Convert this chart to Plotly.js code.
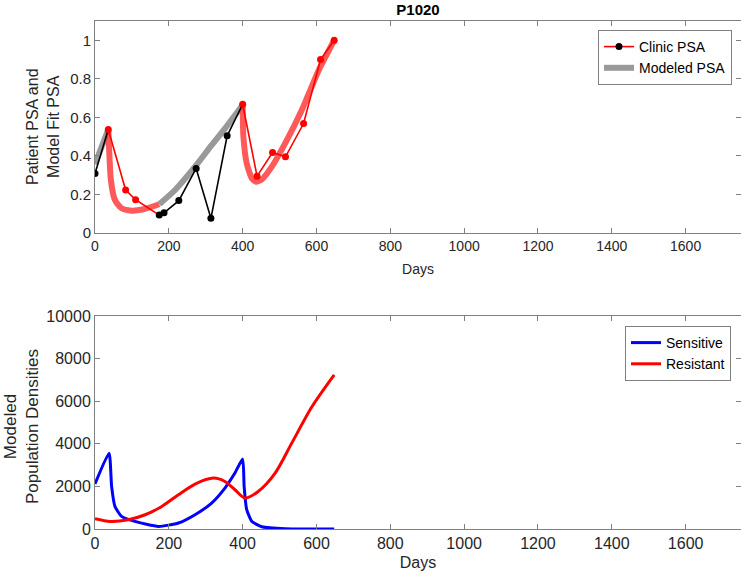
<!DOCTYPE html>
<html>
<head>
<meta charset="utf-8">
<script src="https://cdn.plot.ly/plotly-3.0.1.min.js"></script>
<style>html,body{margin:0;padding:0;background:#fff}#chart{width:741px;height:578px}</style>
</head>
<body>
<div id="chart"></div>
<script>
// ---- Clinic PSA (normalized) ----
const clinicDays = [0, 36, 83, 110, 174, 187, 227, 274, 314, 358, 400, 439, 481, 516, 565, 611, 648];
const clinicPSA  = [0.309, 0.537, 0.223, 0.173, 0.093, 0.105, 0.168, 0.335, 0.076, 0.504, 0.668, 0.295, 0.418, 0.395, 0.568, 0.900, 1.000];
// 1 = on treatment (red), 0 = off treatment (black)
const clinicOnTx = [0, 1, 1, 1, 0, 0, 0, 0, 0, 0, 1, 1, 1, 1, 1, 1, 1];

// ---- Modeled PSA, per phase ----
const modelOff1Days = [0, 36];
const modelOff1PSA  = [0.357, 0.537];
const modelOn1Days  = [36, 38, 43, 54, 72, 99, 131, 174];
const modelOn1PSA   = [0.537, 0.447, 0.275, 0.171, 0.128, 0.116, 0.123, 0.149];
const modelOff2Days = [174, 217, 271, 316, 352, 400];
const modelOff2PSA  = [0.149, 0.223, 0.344, 0.456, 0.542, 0.664];
const modelOn2Days  = [400, 402, 411, 425, 436, 452, 479, 515, 560, 606, 648];
const modelOn2PSA   = [0.664, 0.50, 0.361, 0.283, 0.266, 0.278, 0.344, 0.465, 0.637, 0.845, 1.0];

// ---- Modeled population densities ----
const sensDays = [0, 38, 45, 54, 72, 108, 172, 226, 271, 316, 352, 379, 400, 404, 411, 425, 452, 515, 648];
const sensVals = [2110, 3563, 2000, 1060, 590, 356, 122, 281, 670, 1219, 1922, 2625, 3282, 2000, 905, 356, 108, 10, 5];
const resDays  = [0, 41, 90, 136, 181, 226, 271, 321, 352, 379, 406, 442, 488, 533, 588, 648];
const resVals  = [483, 356, 436, 670, 1060, 1608, 2110, 2391, 2232, 1842, 1453, 1763, 2625, 4032, 5748, 7234];

const xTicks = [0, 200, 400, 600, 800, 1000, 1200, 1400, 1600];

// build clinic segments from the treatment flags
function segments(flag) {
  const segs = [];
  let cur = null;
  for (let i = 0; i < clinicDays.length - 1; i++) {
    const segFlag = (clinicOnTx[i + 1] === 1 && clinicOnTx[i] === 0) ? 0 : clinicOnTx[i];
    if (segFlag === flag) {
      if (!cur) { cur = {x: [clinicDays[i]], y: [clinicPSA[i]]}; segs.push(cur); }
      cur.x.push(clinicDays[i + 1]); cur.y.push(clinicPSA[i + 1]);
    } else cur = null;
  }
  return segs;
}

const traces = [];
[[modelOff1Days, modelOff1PSA, 'off'], [modelOn1Days, modelOn1PSA, 'on'],
 [modelOff2Days, modelOff2PSA, 'off'], [modelOn2Days, modelOn2PSA, 'on']].forEach(([x, y, ph]) => {
  traces.push({x, y, type: 'scatter', mode: 'lines', xaxis: 'x', yaxis: 'y', showlegend: false,
    line: {color: ph === 'on' ? 'rgba(255,60,60,0.85)' : '#999999', width: 6, shape: 'spline', smoothing: 0.6},
    hoverinfo: 'skip'});
});
segments(0).forEach(s => traces.push({x: s.x, y: s.y, type: 'scatter', mode: 'lines', xaxis: 'x', yaxis: 'y',
  showlegend: false, line: {color: '#000000', width: 1.6}}));
segments(1).forEach(s => traces.push({x: s.x, y: s.y, type: 'scatter', mode: 'lines', xaxis: 'x', yaxis: 'y',
  showlegend: false, line: {color: '#ff0000', width: 1.6}}));
traces.push({x: clinicDays.filter((d, i) => !clinicOnTx[i]), y: clinicPSA.filter((d, i) => !clinicOnTx[i]),
  type: 'scatter', mode: 'markers', xaxis: 'x', yaxis: 'y', showlegend: false,
  marker: {color: '#000000', size: 7}});
traces.push({x: clinicDays.filter((d, i) => clinicOnTx[i]), y: clinicPSA.filter((d, i) => clinicOnTx[i]),
  type: 'scatter', mode: 'markers', xaxis: 'x', yaxis: 'y', showlegend: false,
  marker: {color: '#ff0000', size: 7}});
traces.push({x: [null], y: [null], type: 'scatter', mode: 'lines+markers', name: 'Clinic PSA', xaxis: 'x', yaxis: 'y',
  legend: 'legend', line: {color: '#ff0000', width: 1.6}, marker: {color: '#000000', size: 7}});
traces.push({x: [null], y: [null], type: 'scatter', mode: 'lines', name: 'Modeled PSA', xaxis: 'x', yaxis: 'y',
  legend: 'legend', line: {color: '#999999', width: 6}});
traces.push({x: sensDays, y: sensVals, type: 'scatter', mode: 'lines', name: 'Sensitive', xaxis: 'x2', yaxis: 'y2',
  legend: 'legend2', line: {color: '#0000ff', width: 3, shape: 'spline', smoothing: 0.5}});
traces.push({x: resDays, y: resVals, type: 'scatter', mode: 'lines', name: 'Resistant', xaxis: 'x2', yaxis: 'y2',
  legend: 'legend2', line: {color: '#ff0000', width: 3, shape: 'spline', smoothing: 0.8}});

const fontFam = '"Liberation Sans", Arial, Helvetica, sans-serif';
const axCommon = {showgrid: false, zeroline: false, showline: true, linecolor: '#808080', linewidth: 1,
  mirror: 'ticks', ticks: 'inside', ticklen: 5, tickcolor: '#808080', tickfont: {family: fontFam, color: '#262626'}};

const layout = {
  width: 741, height: 578,
  margin: {l: 0, r: 0, t: 0, b: 0},
  paper_bgcolor: '#ffffff', plot_bgcolor: '#ffffff',
  font: {family: fontFam, color: '#262626'},
  title: {text: '<b>P1020</b>', font: {size: 15, family: fontFam, color: '#000'}, x: 418 / 741, xanchor: 'center', y: 1 - 10 / 578, yanchor: 'middle'},
  xaxis: Object.assign({}, axCommon, {domain: [95 / 741, 1], range: [0, 1750], tickvals: xTicks,
    tickfont: {size: 14, family: fontFam, color: '#262626'}, anchor: 'y',
    title: {text: 'Days', font: {size: 14, family: fontFam, color: '#262626'}, standoff: 11}}),
  yaxis: Object.assign({}, axCommon, {domain: [1 - 233 / 578, 1 - 21 / 578], range: [0, 1.1], dtick: 0.2, tick0: 0,
    tickfont: {size: 15, family: fontFam, color: '#262626'}, anchor: 'x'}),
  xaxis2: Object.assign({}, axCommon, {domain: [95 / 741, 1], range: [0, 1750], tickvals: xTicks,
    tickfont: {size: 16, family: fontFam, color: '#262626'}, anchor: 'y2',
    title: {text: 'Days', font: {size: 16, family: fontFam, color: '#262626'}, standoff: 5}}),
  yaxis2: Object.assign({}, axCommon, {domain: [1 - 529 / 578, 1 - 316 / 578], range: [0, 10000], dtick: 2000, tick0: 0,
    tickformat: 'd', tickfont: {size: 16, family: fontFam, color: '#262626'}, anchor: 'x2'}),
  legend: {x: 732 / 741, xanchor: 'right', y: 1 - 30 / 578, yanchor: 'top', bgcolor: '#ffffff',
    bordercolor: '#808080', borderwidth: 1, font: {size: 14, family: fontFam, color: '#000'}, tracegroupgap: 0},
  legend2: {x: 731 / 741, xanchor: 'right', y: 1 - 326 / 578, yanchor: 'top', bgcolor: '#ffffff',
    bordercolor: '#808080', borderwidth: 1, font: {size: 14, family: fontFam, color: '#000'}, tracegroupgap: 0},
  annotations: [
    {text: 'Patient PSA and<br>Model Fit PSA', textangle: -90, xref: 'paper', yref: 'paper',
     x: 43 / 741, y: 1 - 127 / 578, xanchor: 'center', yanchor: 'middle', showarrow: false,
     font: {size: 16, family: fontFam, color: '#262626'}},
    {text: 'Modeled<br>Population Densities', textangle: -90, xref: 'paper', yref: 'paper',
     x: 21 / 741, y: 1 - 427 / 578, xanchor: 'center', yanchor: 'middle', showarrow: false,
     font: {size: 17, family: fontFam, color: '#262626'}}
  ],
  showlegend: true
};

Plotly.newPlot('chart', traces, layout, {displayModeBar: false, staticPlot: true});
</script>
</body>
</html>
